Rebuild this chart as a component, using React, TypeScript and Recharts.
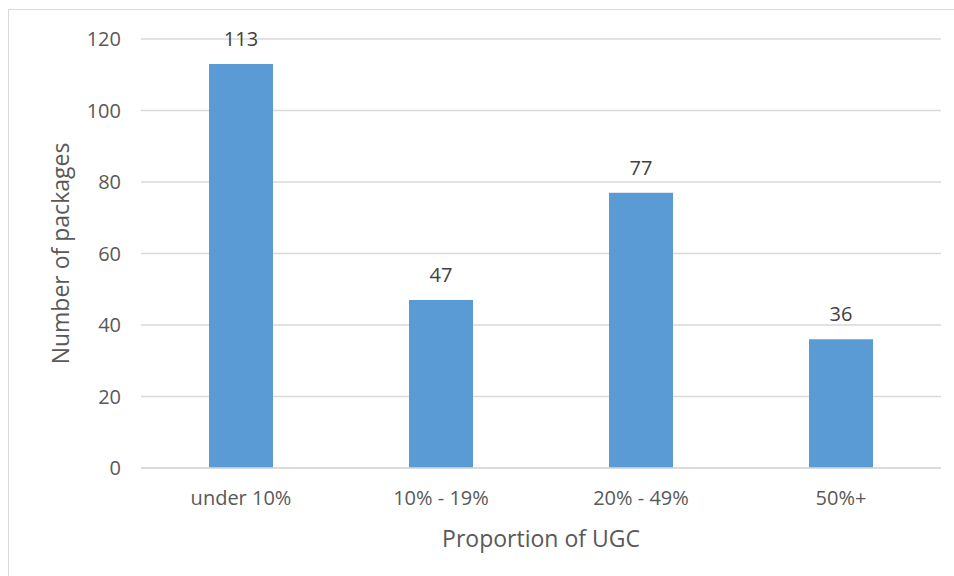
import React from "react";
import { BarChart, Bar, XAxis, YAxis, CartesianGrid, LabelList } from "recharts";

const categories = ["under 10%", "10% - 19%", "20% - 49%", "50%+"];
const packages = [113, 47, 77, 36];
const yTicks = [0, 20, 40, 60, 80, 100, 120];

const data = categories.map((c, i) => ({ name: c, value: packages[i] }));

const FONT = "'Open Sans', 'Noto Sans', sans-serif";
const TXT = "#595959";

export default function App() {
  return (
    <div
      style={{
        position: "absolute",
        left: 8,
        top: 9,
        width: 946,
        height: 567,
        borderTop: "1px solid #d9d9d9",
        borderLeft: "1px solid #d9d9d9",
        background: "#fff",
        fontFamily: FONT,
        overflow: "hidden",
      }}
    >
      <BarChart
        width={946}
        height={567}
        data={data}
        margin={{ top: 29, right: 14, bottom: 0, left: 0 }}
        barCategoryGap="34%"
      >
        <CartesianGrid vertical={false} stroke="#d9d9d9" strokeWidth={1.5} />
        <XAxis
          dataKey="name"
          height={109}
          tickLine={false}
          axisLine={{ stroke: "#d9d9d9", strokeWidth: 1.5 }}
          tick={{ fill: TXT, fontSize: 20, fontFamily: FONT }}
          tickMargin={17}
          label={{
            value: "Proportion of UGC",
            position: "insideBottom",
            offset: 30,
            fill: TXT,
            fontSize: 23,
            fontFamily: FONT,
          }}
        />
        <YAxis
          width={132}
          domain={[0, 120]}
          ticks={yTicks}
          tickLine={false}
          axisLine={false}
          tick={{ fill: TXT, fontSize: 20, fontFamily: FONT }}
          tickMargin={14}
          label={{
            value: "Number of packages",
            angle: -90,
            position: "insideLeft",
            offset: 52,
            style: { textAnchor: "middle" },
            fill: TXT,
            fontSize: 23,
            fontFamily: FONT,
          }}
        />
        <Bar dataKey="value" fill="#5b9bd5" isAnimationActive={false}>
          <LabelList
            dataKey="value"
            position="top"
            offset={18}
            fill="#404040"
            fontSize={20}
            fontFamily={FONT}
          />
        </Bar>
      </BarChart>
    </div>
  );
}
